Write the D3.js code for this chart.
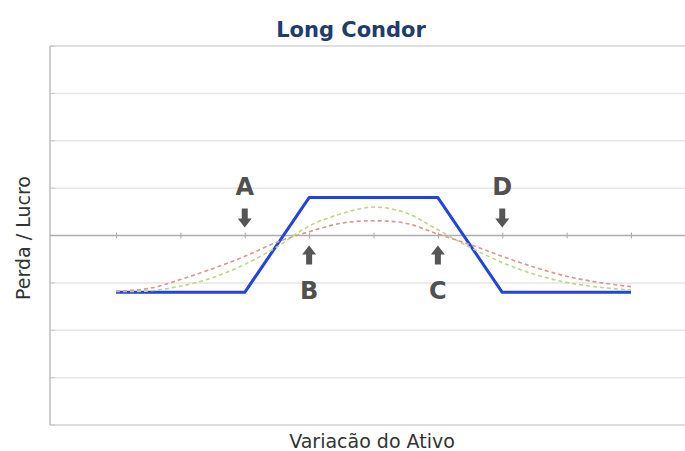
<!DOCTYPE html>
<html>
<head>
<meta charset="utf-8">
<script src="https://cdn.jsdelivr.net/npm/d3@7"></script>
<style>
  body { margin: 0; background: #fff; }
  text { font-family: "DejaVu Sans", Verdana, sans-serif; }
</style>
</head>
<body>
<div class="graphics"></div>
<script>
// asset price steps (tick positions along the x axis)
const xTicks = [0, 1, 2, 3, 4, 5, 6, 7, 8];
const yTicks = [-4, -3, -2, -1, 0, 1, 2, 3, 4];

// payoff at expiry (blue)
const payoffX = [0, 2, 3, 5, 6, 8];
const payoffY = [-1.2, -1.2, 0.8, 0.8, -1.2, -1.2];

// value before expiry (dashed curves)
const curveX = [0, 0.5, 1, 1.5, 2, 2.5, 3, 3.5, 4, 4.5, 5, 5.5, 6, 6.5, 7, 7.5, 8];
const greenVals = [-1.18, -1.17, -1.07, -0.89, -0.61, -0.24, 0.2, 0.46, 0.6, 0.48, 0.12, -0.25, -0.57, -0.82, -0.99, -1.09, -1.15];
const redVals = [-1.17, -1.12, -0.93, -0.7, -0.44, -0.14, 0.08, 0.26, 0.31, 0.26, 0.03, -0.19, -0.44, -0.67, -0.86, -0.99, -1.08];

// strikes
const strikeNames = ["A", "B", "C", "D"];
const strikeX = [2, 3, 5, 6];
const strikeDir = ["down", "up", "up", "down"];

const width = 685, height = 451;
const plot = { left: 50, right: 685, top: 46, bottom: 425 };

const svg = d3.select('.graphics').append('svg')
  .attr('width', width).attr('height', height);

const x = d3.scaleLinear().domain([0, 8]).range([116, 631]);
const y = d3.scaleLinear().domain([-4, 4]).range([plot.bottom, plot.top]);

// grid lines
svg.append('g').selectAll('line')
  .data(yTicks.filter(d => d !== 0))
  .join('line')
  .attr('x1', plot.left).attr('x2', plot.right)
  .attr('y1', d => y(d)).attr('y2', d => y(d))
  .attr('stroke', d => (d === -4 || d === 4) ? '#d4d4d4' : '#e6e6e6')
  .attr('stroke-width', 1.5);

// left border
svg.append('line')
  .attr('x1', plot.left).attr('x2', plot.left)
  .attr('y1', plot.top).attr('y2', plot.bottom)
  .attr('stroke', '#bdbdbd').attr('stroke-width', 1.5);

// small ticks on left border
svg.append('g').selectAll('line')
  .data(yTicks)
  .join('line')
  .attr('x1', plot.left).attr('x2', plot.left + 5)
  .attr('y1', d => y(d)).attr('y2', d => y(d))
  .attr('stroke', '#c8c8c8');

// zero axis with ticks
const xAxis = d3.axisBottom(x).tickValues(xTicks).tickSize(3).tickFormat('');
const gx = svg.append('g').attr('transform', `translate(0,${y(0)})`).call(xAxis);
gx.select('.domain').remove();
gx.selectAll('.tick line').attr('stroke', '#a8a8a8').attr('y1', -3);
svg.append('line')
  .attr('x1', plot.left).attr('x2', plot.right)
  .attr('y1', y(0)).attr('y2', y(0))
  .attr('stroke', '#adadad').attr('stroke-width', 1.5);

// payoff line
const payoff = d3.line().x(d => x(d[0])).y(d => y(d[1]));
svg.append('path')
  .datum(d3.zip(payoffX, payoffY))
  .attr('d', payoff)
  .attr('fill', 'none')
  .attr('stroke', '#2143e0')
  .attr('stroke-width', 3)
  .attr('stroke-linejoin', 'round');

// dashed curves
const smooth = d3.line().x(d => x(d[0])).y(d => y(d[1])).curve(d3.curveCatmullRom);
svg.append('path')
  .datum(d3.zip(curveX, greenVals))
  .attr('d', smooth)
  .attr('fill', 'none')
  .attr('stroke', '#bcd68a')
  .attr('stroke-width', 1.6)
  .attr('stroke-dasharray', '4,3');
svg.append('path')
  .datum(d3.zip(curveX, redVals))
  .attr('d', smooth)
  .attr('fill', 'none')
  .attr('stroke', '#d29c8e')
  .attr('stroke-width', 1.6)
  .attr('stroke-dasharray', '4,3');

// strike markers
const marks = svg.append('g');
strikeNames.forEach((name, i) => {
  const cx = x(strikeX[i]);
  const down = strikeDir[i] === 'down';
  const tip = down ? y(0) - 8 : y(0) + 10;
  const s = down ? -1 : 1; // direction away from tip
  const p = d3.path();
  p.moveTo(cx, tip);
  p.lineTo(cx - 7, tip + s * 9);
  p.lineTo(cx - 3, tip + s * 9);
  p.lineTo(cx - 3, tip + s * 19);
  p.lineTo(cx + 3, tip + s * 19);
  p.lineTo(cx + 3, tip + s * 9);
  p.lineTo(cx + 7, tip + s * 9);
  p.closePath();
  marks.append('path').attr('d', p.toString()).attr('fill', '#555');
  marks.append('text')
    .attr('x', cx)
    .attr('y', down ? y(0) - 41 : y(0) + 63)
    .attr('text-anchor', 'middle')
    .attr('font-size', 24)
    .attr('font-weight', 'bold')
    .attr('fill', '#505050')
    .text(name);
});

// title and axis labels
svg.append('text')
  .attr('x', 351).attr('y', 37)
  .attr('text-anchor', 'middle')
  .attr('font-size', 21).attr('font-weight', 'bold')
  .attr('fill', '#1f3b6f')
  .text('Long Condor');

svg.append('text')
  .attr('transform', 'translate(30,238) rotate(-90)')
  .attr('text-anchor', 'middle')
  .attr('font-size', 19)
  .attr('fill', '#333')
  .text('Perda / Lucro');

svg.append('text')
  .attr('x', 372).attr('y', 448)
  .attr('text-anchor', 'middle')
  .attr('font-size', 19)
  .attr('fill', '#333')
  .text('Variacão do Ativo');
</script>
</body>
</html>
